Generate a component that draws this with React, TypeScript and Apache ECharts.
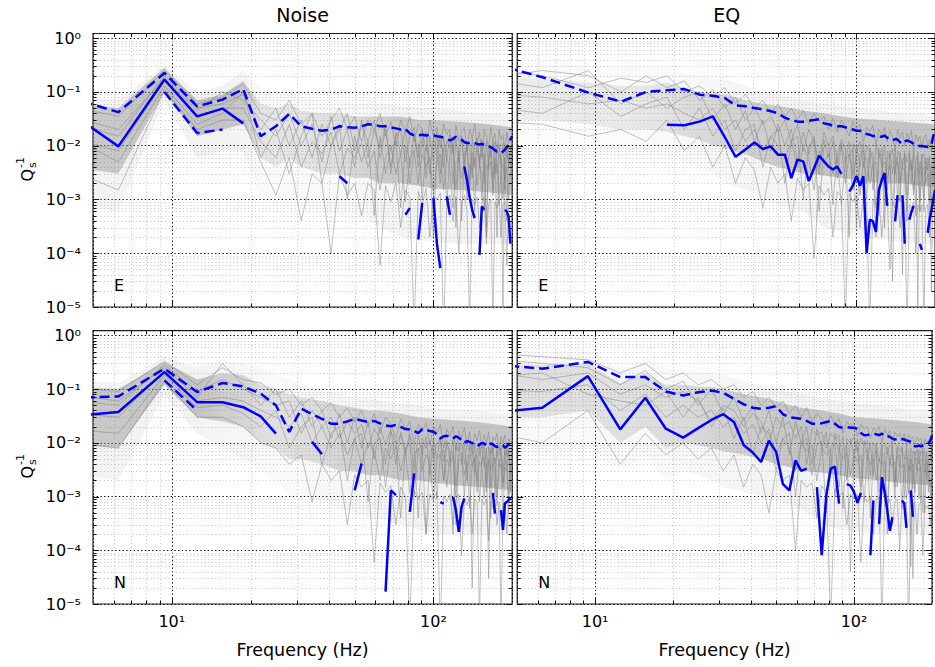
import React, { useEffect, useRef } from "react";
import * as echarts from "echarts";

// ---------- frequency sampling (Hz) ----------
const FREQ = [
  3.125, 6.25, 9.375, 12.5, 15.625, 18.75, 21.875, 25,
  28.125, 31.25, 34.375, 37.5, 40.625, 43.75, 46.875, 50,
  53.125, 56.25, 59.375, 62.5, 65.625, 68.75, 71.875, 75,
  78.125, 81.25, 84.375, 87.5, 90.625, 93.75, 96.875, 100,
  103.125, 106.25, 109.375, 112.5, 115.625, 118.75, 121.875, 125,
  128.125, 131.25, 134.375, 137.5, 140.625, 143.75, 146.875, 150,
  153.125, 156.25, 159.375, 162.5, 165.625, 168.75, 171.875, 175,
  178.125, 181.25, 184.375, 187.5, 190.625, 193.75, 196.875, 200,
];
const BAND_FREQ = [3.125, 6.25, 9.375, 12.5, 15.625, 18.75, 21.875, 25, 28.125, 31.25, 37.5, 43.75, 50, 56.25, 62.5, 75, 87.5, 100, 125, 150, 175, 200];

// ---------- ticks ----------
const X_MAJOR_TICKS = [10, 100];
const X_MINOR_TICKS = [6, 7, 8, 9, 20, 30, 40, 50, 60, 70, 80, 90];
const Y_MAJOR_TICKS = [1e-5, 1e-4, 1e-3, 1e-2, 1e-1, 1];
const Y_DECADES = [1e-5, 1e-4, 1e-3, 1e-2, 1e-1];
const MINOR_STEPS = [2, 3, 4, 5, 6, 7, 8, 9];

const TITLES = ["Noise", "EQ"];
const COMPONENTS = ["E", "N"];
const X_NAME = "Frequency (Hz)";

// ---------- Noise / E ----------
const TL_UPPER = [
  0.115, 0.042, 0.225, 0.054, 0.072, 0.113, 0.015, 0.023,
  0.039, 0.023, 0.0206, 0.019, 0.02, 0.023, 0.022, 0.0215,
  0.023, 0.025, 0.0246, 0.023, 0.023, 0.022, 0.021, 0.02,
  0.0205, 0.017, 0.0155, 0.0155, 0.016, 0.0155, 0.016, 0.0155,
  0.015, 0.0146, 0.0142, 0.0133, 0.0125, 0.0133, 0.0146, 0.014,
  0.013, 0.0116, 0.0112, 0.0112, 0.0116, 0.0112, 0.0108, 0.0105,
  0.0108, 0.0104, 0.0102, 0.0099, 0.0094, 0.0089, 0.0082, 0.0077,
  0.0075, 0.0073, 0.0078, 0.0084, 0.0094, 0.0104, 0.013, 0.015,
];
const TL_MEAN = [
  0.102, 0.0097, 0.17, 0.035, 0.049, 0.026, null, null,
  null, null, null, null, null, 0.0027, 0.002, null,
  null, null, null, null, null, null, null, null,
  5.2e-4, 6.9e-4, null, 1.8e-4, 8.6e-4, null, null, 1.06e-3,
  1.5e-4, 5.3e-5, null, 1.14e-3, 5.2e-4, null, null, null,
  null, 4.1e-3, 2.3e-3, 1.1e-3, 6.4e-4, 4.5e-4, null, 9.3e-5,
  7.4e-4, 6.4e-4, null, null, null, null, null, null,
  null, null, null, 6.4e-4, 6.0e-4, 4.8e-4, 1.5e-4, null,
];
const TL_LOWER_FREQ = [9.375, 12.5, 15.625];
const TL_LOWER = [0.1, 0.0172, 0.02];
const TL_CORE_HI = [0.07, 0.05, 0.28, 0.07, 0.09, 0.16, 0.06, 0.05, 0.06, 0.045, 0.04, 0.04, 0.035, 0.035, 0.035, 0.035, 0.03, 0.03, 0.028, 0.026, 0.024, 0.022];
const TL_CORE_LO = [0.005, 0.003, 0.1, 0.015, 0.02, 0.025, 0.006, 0.004, 0.006, 0.004, 0.003, 0.003, 0.0025, 0.0025, 0.002, 0.002, 0.0018, 0.0016, 0.0015, 0.0014, 0.0013, 0.0012];
const TL_HALO_HI = [0.1, 0.07, 0.32, 0.1, 0.13, 0.25, 0.12, 0.08, 0.1, 0.08, 0.07, 0.07, 0.06, 0.06, 0.06, 0.055, 0.05, 0.05, 0.045, 0.04, 0.04, 0.035];
const TL_HALO_LO = [0.001, 0.0006, 0.07, 0.006, 0.008, 0.008, 0.001, 0.0008, 0.001, 0.0008, 0.0006, 0.0005, 0.0004, 0.0004, 0.0003, 0.0002, 0.00018, 0.00016, 0.00015, 0.00015, 0.00015, 0.00015];
const TL_DENSITY = [0.9, 0.9, 1, 1, 1, 0.9, 0.45, 0.4, 0.45, 0.45, 0.5, 0.55, 0.65, 0.75, 0.85, 0.95, 1, 1, 1, 1, 1, 1];
const TL_G1 = [
  0.07, 0.035, 0.25, 0.06, 0.08, 0.14, 0.04, 0.03,
  0.07, 0.025, 0.04, 0.015, 0.03, 0.05, 0.02, 0.035,
  0.012, 0.03, 0.02, 0.04, 0.015, 0.028, 0.01, 0.03,
  0.018, 0.035, 0.012, 0.025, 0.02, 0.008, 0.03, 0.015,
  0.022, 0.009, 0.025, 0.016, 0.02, 0.007, 0.024, 0.012,
  0.018, 0.022, 0.008, 0.02, 0.014, 0.025, 0.01, 0.018,
  0.006, 0.02, 0.015, 0.009, 0.022, 0.012, 0.017, 0.007,
  0.02, 0.013, 0.016, 0.008, 0.018, 0.011, 0.015, 0.01,
];
const TL_G2 = [
  0.02, 0.008, 0.16, 0.035, 0.05, 0.05, 0.012, 0.006,
  0.025, 0.004, 0.012, 0.007, 0.018, 0.003, 0.009, 0.006,
  0.011, 0.004, 0.008, 0.0015, 0.006, 0.01, 0.003, 0.007,
  0.0009, 0.006, 0.008, 0.002, 0.007, 0.004, 0.006, 0.0012,
  0.005, 0.007, 0.0015, 0.006, 0.0035, 0.0007, 0.005, 0.006,
  0.0025, 0.005, 0.001, 0.0045, 0.0035, 0.006, 0.0018, 0.0045,
  0.003, 0.0006, 0.0045, 0.0035, 0.005, 0.0012, 0.004, 0.0045,
  0.0008, 0.0035, 0.0045, 0.0022, 0.004, 0.001, 0.0035, 0.003,
];
const TL_G3 = [
  0.006, 0.0015, 0.11, 0.02, 0.03, 0.03, 0.005, 0.0012,
  0.006, 0.0004, 0.003, 0.002, 0.0001, 0.003, 0.0012, 0.002,
  0.0005, 0.002, 0.0015, 0.00006, 0.0018, 0.0009, 0.002, 0.0003,
  0.0015, 0.0011, 0.000004, 0.0014, 0.0008, 0.0016, 0.0002, 0.0012,
  0.001, 0.0013, 0.000003, 0.0009, 0.0012, 0.0004, 0.0011, 0.0001,
  0.0009, 0.0012, 0.0006, 0.000005, 0.001, 0.0008, 0.0011, 0.0003,
  0.0009, 0.0011, 0.00015, 0.0008, 0.001, 0.000004, 0.0009, 0.0007,
  0.001, 0.0002, 0.0008, 0.0009, 0.00006, 0.0008, 0.0007, 0.0009,
];
const TL_G4 = [
  0.04, 0.015, 0.2, 0.05, 0.06, 0.09, 0.02, 0.05,
  0.01, 0.03, 0.006, 0.025, 0.01, 0.02, 0.04, 0.008,
  0.025, 0.012, 0.03, 0.006, 0.02, 0.004, 0.015, 0.02,
  0.005, 0.015, 0.022, 0.004, 0.012, 0.018, 0.003, 0.014,
  0.008, 0.016, 0.004, 0.012, 0.009, 0.015, 0.0003, 0.01,
  0.013, 0.005, 0.012, 0.009, 0.0025, 0.011, 0.014, 0.004,
  0.012, 0.008, 0.0002, 0.01, 0.006, 0.012, 0.003, 0.009,
  0.011, 0.005, 0.00001, 0.009, 0.006, 0.01, 0.004, 0.008,
];
const TL_G5 = [
  0.05, 0.02, 0.18, 0.045, 0.1, 0.07, 0.03, 0.015,
  0.04, 0.01, 0.025, 0.005, 0.035, 0.008, 0.02, 0.004,
  0.03, 0.006, 0.02, 0.009, 0.025, 0.003, 0.018, 0.007,
  0.02, 0.004, 0.016, 0.006, 0.02, 0.0025, 0.015, 0.005,
  0.018, 0.003, 0.014, 0.006, 0.016, 0.002, 0.013, 0.005,
  0.015, 0.0035, 0.012, 0.0015, 0.014, 0.004, 0.011, 0.005,
  0.013, 0.002, 0.012, 0.004, 0.01, 0.0025, 0.012, 0.003,
  0.01, 0.0045, 0.011, 0.0015, 0.009, 0.004, 0.01, 0.003,
];
const TL_G6 = [
  0.03, 0.005, 0.13, 0.025, 0.04, 0.1, 0.006, 0.02,
  0.003, 0.015, 0.04, 0.002, 0.01, 0.025, 0.001, 0.015,
  0.005, 0.012, 0.0005, 0.015, 0.003, 0.009, 0.012, 0.0007,
  0.01, 0.002, 0.008, 0.011, 0.001, 0.009, 0.006, 0.0002,
  0.008, 0.002, 0.009, 0.0008, 0.007, 0.01, 0.0015, 0.008,
  0.0004, 0.007, 0.009, 0.002, 0.0075, 0.0006, 0.008, 0.0065,
  0.001, 0.007, 0.0003, 0.0065, 0.008, 0.0015, 0.006, 0.0002,
  0.007, 0.0055, 0.001, 0.006, 0.0004, 0.0065, 0.005, 0.0012,
];

// ---------- EQ / E ----------
const TR_UPPER = [
  0.47, 0.187, 0.097, 0.066, 0.1, 0.107, 0.113, 0.089,
  0.085, 0.077, 0.056, 0.054, 0.05, 0.047, 0.044, 0.04,
  0.033, 0.03, 0.028, 0.028, 0.029, 0.03, 0.031, 0.026,
  0.025, 0.0235, 0.023, 0.023, 0.022, 0.021, 0.02, 0.019,
  0.019, 0.017, 0.0165, 0.016, 0.015, 0.0155, 0.015, 0.0146,
  0.0155, 0.014, 0.013, 0.0125, 0.0133, 0.013, 0.0116, 0.0108,
  0.012, 0.0125, 0.012, 0.0116, 0.0108, 0.0104, 0.01, 0.0099,
  0.0099, 0.0097, 0.0097, 0.0094, 0.0099, 0.0104, 0.015, 0.0185,
];
const TR_MEAN = [
  null, null, null, null, null, 0.0246, 0.024, 0.028,
  0.035, 0.0145, 0.0062, 0.0085, 0.0115, 0.0087, 0.0097, 0.0068,
  0.0068, 0.0025, 0.0055, 0.0051, 0.0022, 0.0038, 0.0065, 0.0051,
  0.0041, 0.0036, 0.0041, 0.003, null, 0.0014, 0.0018, 0.0027,
  0.0018, 0.0027, 1e-4, 4.2e-4, 3.9e-4, 2.5e-4, 1.5e-3, 2.3e-3,
  3.1e-3, 7.6e-4, null, null, 3.9e-4, 1.2e-3, null, 1.2e-3,
  1.5e-4, null, 4.2e-4, 5.9e-4, 7.6e-4, null, null, 1.5e-4,
  1.15e-4, null, null, 2.4e-4, 4.2e-4, 6.2e-4, 9.8e-4, 1.5e-3,
];
const TR_CORE_HI = [0.2, 0.18, 0.15, 0.13, 0.13, 0.15, 0.12, 0.1, 0.09, 0.09, 0.07, 0.06, 0.055, 0.05, 0.045, 0.04, 0.035, 0.032, 0.03, 0.028, 0.026, 0.025];
const TR_CORE_LO = [0.03, 0.03, 0.025, 0.02, 0.02, 0.018, 0.015, 0.013, 0.01, 0.009, 0.007, 0.005, 0.004, 0.0035, 0.003, 0.0028, 0.0025, 0.0023, 0.002, 0.002, 0.0018, 0.0017];
const TR_HALO_HI = [0.4, 0.35, 0.3, 0.3, 0.28, 0.28, 0.22, 0.2, 0.18, 0.17, 0.13, 0.1, 0.09, 0.08, 0.07, 0.06, 0.055, 0.05, 0.045, 0.04, 0.04, 0.035];
const TR_HALO_LO = [0.008, 0.006, 0.006, 0.006, 0.007, 0.006, 0.005, 0.004, 0.003, 0.002, 0.0015, 0.001, 0.0008, 0.0007, 0.0006, 0.0003, 0.00025, 0.0002, 0.00018, 0.00016, 0.00015, 0.00015];
const TR_DENSITY = [0.3, 0.3, 0.35, 0.35, 0.4, 0.45, 0.55, 0.6, 0.65, 0.7, 0.75, 0.8, 0.85, 0.9, 0.95, 1, 1, 1, 1, 1, 1, 1];
const TR_G1 = [
  0.3, 0.2, 0.12, 0.18, 0.15, 0.2, 0.1, 0.13,
  0.08, 0.12, 0.06, 0.09, 0.05, 0.07, 0.04, 0.06,
  0.035, 0.05, 0.03, 0.045, 0.025, 0.04, 0.028, 0.035,
  0.02, 0.032, 0.018, 0.03, 0.022, 0.015, 0.028, 0.02,
  0.025, 0.012, 0.022, 0.018, 0.024, 0.01, 0.02, 0.016,
  0.022, 0.012, 0.019, 0.015, 0.008, 0.02, 0.014, 0.018,
  0.01, 0.017, 0.013, 0.019, 0.007, 0.016, 0.012, 0.015,
  0.009, 0.014, 0.016, 0.01, 0.013, 0.008, 0.015, 0.012,
];
const TR_G2 = [
  0.1, 0.08, 0.06, 0.07, 0.05, 0.06, 0.04, 0.03,
  0.05, 0.02, 0.03, 0.012, 0.02, 0.008, 0.015, 0.01,
  0.006, 0.012, 0.004, 0.009, 0.006, 0.0015, 0.008, 0.005,
  0.007, 0.003, 0.006, 0.0008, 0.005, 0.007, 0.003, 0.006,
  0.0012, 0.005, 0.006, 0.002, 0.0045, 0.005, 0.0005, 0.004,
  0.005, 0.0025, 0.0045, 0.0008, 0.004, 0.005, 0.002, 0.004,
  0.0035, 0.0006, 0.004, 0.0045, 0.0015, 0.0035, 0.004, 0.0009,
  0.0035, 0.004, 0.002, 0.003, 0.0004, 0.0035, 0.003, 0.0025,
];
const TR_G3 = [
  0.03, 0.025, 0.015, 0.02, 0.012, 0.03, 0.008, 0.015,
  0.004, 0.01, 0.002, 0.006, 0.0035, 0.0007, 0.004, 0.002,
  0.003, 0.0004, 0.0025, 0.0015, 0.002, 0.00008, 0.0018, 0.0012,
  0.0016, 0.0002, 0.0014, 0.0011, 0.000005, 0.0013, 0.0009, 0.0012,
  0.0003, 0.0011, 0.0009, 0.000004, 0.001, 0.0008, 0.0011, 0.0002,
  0.0009, 0.001, 0.00005, 0.0009, 0.0007, 0.001, 0.0003, 0.0008,
  0.0009, 0.000003, 0.0008, 0.0007, 0.0009, 0.0001, 0.0008, 0.0006,
  0.0008, 0.000004, 0.0007, 0.0008, 0.0002, 0.0007, 0.0006, 0.0007,
];
const TR_G4 = [
  0.15, 0.25, 0.2, 0.1, 0.2, 0.12, 0.16, 0.07,
  0.11, 0.05, 0.08, 0.03, 0.05, 0.025, 0.035, 0.018,
  0.03, 0.012, 0.025, 0.008, 0.02, 0.012, 0.004, 0.018,
  0.01, 0.015, 0.005, 0.013, 0.009, 0.0002, 0.011, 0.007,
  0.012, 0.004, 0.01, 0.0075, 0.0015, 0.01, 0.006, 0.009,
  0.0003, 0.008, 0.006, 0.009, 0.003, 0.008, 0.0055, 0.00004,
  0.007, 0.005, 0.008, 0.002, 0.007, 0.005, 0.0075, 0.0006,
  0.006, 0.007, 0.003, 0.006, 0.0045, 0.00002, 0.006, 0.005,
];
const TR_G5 = [
  0.2, 0.12, 0.25, 0.06, 0.1, 0.05, 0.08, 0.1,
  0.03, 0.06, 0.02, 0.045, 0.012, 0.03, 0.008, 0.025,
  0.01, 0.02, 0.005, 0.018, 0.007, 0.015, 0.003, 0.013,
  0.006, 0.012, 0.0025, 0.011, 0.005, 0.012, 0.0015, 0.01,
  0.004, 0.011, 0.002, 0.009, 0.005, 0.0007, 0.009, 0.004,
  0.01, 0.0015, 0.008, 0.003, 0.009, 0.001, 0.0075, 0.004,
  0.008, 0.0012, 0.007, 0.0035, 0.0075, 0.0005, 0.0065, 0.003,
  0.007, 0.001, 0.006, 0.0035, 0.0065, 0.0008, 0.006, 0.0025,
];
const TR_G6 = [
  0.06, 0.04, 0.1, 0.035, 0.06, 0.08, 0.02, 0.05,
  0.015, 0.03, 0.008, 0.02, 0.025, 0.004, 0.015, 0.02,
  0.002, 0.012, 0.015, 0.001, 0.01, 0.013, 0.0006, 0.009,
  0.011, 0.0008, 0.008, 0.01, 0.002, 0.007, 0.009, 0.0003,
  0.007, 0.008, 0.001, 0.0065, 0.0075, 0.0002, 0.006, 0.007,
  0.0008, 0.006, 0.0065, 0.00003, 0.0055, 0.006, 0.0009, 0.0055,
  0.006, 0.0004, 0.005, 0.0055, 0.0012, 0.005, 0.00001, 0.005,
  0.0045, 0.0006, 0.005, 0.0045, 0.0009, 0.0045, 0.004, 0.0005,
];

// ---------- Noise / N ----------
const BL_UPPER = [
  0.066, 0.073, 0.24, 0.088, 0.13, 0.112, 0.082, 0.05,
  0.016, 0.043, 0.034, 0.028, 0.0227, 0.0227, 0.025, 0.028,
  0.026, 0.0244, 0.0255, 0.023, 0.021, 0.0203, 0.0216, 0.0197,
  0.018, 0.0176, 0.0166, 0.0152, 0.018, 0.0176, 0.0166, 0.016,
  0.0144, 0.012, 0.0132, 0.0135, 0.0128, 0.012, 0.0132, 0.0125,
  0.0111, 0.0099, 0.0108, 0.0104, 0.0099, 0.0094, 0.0086, 0.0092,
  0.0099, 0.0097, 0.009, 0.0086, 0.0097, 0.0094, 0.0086, 0.0084,
  0.0089, 0.0093, 0.009, 0.0081, 0.0086, 0.0094, 0.0104, 0.011,
];
const BL_MEAN = [
  0.0275, 0.0374, 0.207, 0.057, 0.057, 0.046, 0.031, 0.0148,
  null, null, 0.0104, 0.0061, null, null, null, 1.3e-3,
  4.1e-3, null, null, null, 1.7e-5, 1.3e-3, 1.06e-3, null,
  null, 5.2e-4, 2.7e-3, null, null, null, null, null,
  null, 7.9e-4, 7.4e-4, null, null, 9.8e-4, 5.6e-4, 2.2e-4,
  6.4e-4, 9.2e-4, null, null, null, null, null, null,
  null, null, null, null, null, 1.17e-3, 4.8e-4, null,
  null, 5.6e-4, 2.4e-4, 7.4e-4, 7.9e-4, 8.5e-4, 9.8e-4, null,
];
const BL_LOWER_FREQ = [9.375, 12.5];
const BL_LOWER = [0.145, 0.04];
const BL_CORE_HI = [0.12, 0.1, 0.32, 0.15, 0.2, 0.18, 0.12, 0.1, 0.08, 0.07, 0.06, 0.05, 0.045, 0.04, 0.04, 0.035, 0.03, 0.028, 0.026, 0.024, 0.022, 0.02];
const BL_CORE_LO = [0.01, 0.008, 0.12, 0.03, 0.025, 0.02, 0.01, 0.008, 0.005, 0.005, 0.004, 0.003, 0.003, 0.0025, 0.0025, 0.002, 0.002, 0.0018, 0.0016, 0.0015, 0.0014, 0.0013];
const BL_HALO_HI = [0.15, 0.13, 0.4, 0.25, 0.35, 0.3, 0.25, 0.2, 0.15, 0.12, 0.1, 0.08, 0.07, 0.07, 0.06, 0.055, 0.05, 0.045, 0.04, 0.04, 0.035, 0.035];
const BL_HALO_LO = [0.003, 0.002, 0.08, 0.015, 0.008, 0.005, 0.003, 0.002, 0.001, 0.001, 0.0008, 0.0006, 0.0005, 0.0004, 0.0004, 0.0003, 0.00025, 0.0002, 0.0002, 0.0002, 0.0002, 0.0002];
const BL_DENSITY = [0.9, 0.9, 1, 1, 0.8, 0.7, 0.55, 0.5, 0.5, 0.55, 0.6, 0.7, 0.8, 0.85, 0.9, 0.95, 1, 1, 1, 1, 1, 1];
const BL_G1 = [
  0.12, 0.09, 0.33, 0.12, 0.25, 0.15, 0.13, 0.08,
  0.1, 0.05, 0.07, 0.04, 0.055, 0.03, 0.045, 0.025,
  0.04, 0.02, 0.035, 0.015, 0.03, 0.022, 0.012, 0.028,
  0.018, 0.025, 0.01, 0.022, 0.016, 0.024, 0.009, 0.02,
  0.015, 0.022, 0.008, 0.018, 0.013, 0.02, 0.007, 0.017,
  0.012, 0.019, 0.009, 0.016, 0.006, 0.015, 0.011, 0.017,
  0.008, 0.014, 0.01, 0.016, 0.006, 0.013, 0.011, 0.015,
  0.007, 0.013, 0.01, 0.014, 0.006, 0.012, 0.01, 0.011,
];
const BL_G2 = [
  0.04, 0.03, 0.22, 0.06, 0.07, 0.06, 0.04, 0.03,
  0.02, 0.035, 0.01, 0.02, 0.008, 0.015, 0.006, 0.012,
  0.004, 0.01, 0.007, 0.002, 0.008, 0.005, 0.009, 0.003,
  0.007, 0.0012, 0.006, 0.008, 0.003, 0.006, 0.0045, 0.0008,
  0.005, 0.006, 0.002, 0.005, 0.0035, 0.006, 0.001, 0.0045,
  0.005, 0.0025, 0.0045, 0.0006, 0.004, 0.005, 0.002, 0.0045,
  0.0035, 0.0009, 0.004, 0.0045, 0.0015, 0.004, 0.0035, 0.0007,
  0.0035, 0.004, 0.0018, 0.0035, 0.003, 0.0005, 0.003, 0.0028,
];
const BL_G3 = [
  0.012, 0.008, 0.14, 0.03, 0.03, 0.02, 0.01, 0.008,
  0.004, 0.006, 0.0008, 0.004, 0.002, 0.003, 0.0003, 0.0025,
  0.0015, 0.002, 0.00006, 0.0018, 0.0012, 0.0016, 0.0003, 0.0015,
  0.001, 0.000004, 0.0013, 0.0009, 0.0012, 0.0002, 0.0011, 0.0009,
  0.0012, 0.000003, 0.001, 0.0008, 0.0011, 0.0003, 0.0009, 0.0011,
  0.00008, 0.0009, 0.0007, 0.001, 0.0002, 0.0009, 0.0008, 0.000005,
  0.0009, 0.0007, 0.0009, 0.00015, 0.0008, 0.0006, 0.0009, 0.0003,
  0.0008, 0.000004, 0.0007, 0.0008, 0.0002, 0.0007, 0.0006, 0.0008,
];
const BL_G4 = [
  0.07, 0.05, 0.28, 0.09, 0.15, 0.1, 0.07, 0.05,
  0.06, 0.015, 0.04, 0.02, 0.03, 0.012, 0.025, 0.015,
  0.022, 0.008, 0.018, 0.012, 0.004, 0.016, 0.01, 0.014,
  0.006, 0.013, 0.009, 0.0004, 0.012, 0.008, 0.011, 0.005,
  0.01, 0.012, 0.0045, 0.01, 0.007, 0.0002, 0.009, 0.007,
  0.01, 0.004, 0.009, 0.007, 0.01, 0.0025, 0.008, 0.006,
  0.009, 0.0035, 0.008, 0.00003, 0.007, 0.008, 0.004, 0.007,
  0.006, 0.008, 0.003, 0.007, 0.0055, 0.007, 0.0025, 0.006,
];
const BL_G5 = [
  0.09, 0.06, 0.25, 0.07, 0.3, 0.12, 0.05, 0.1,
  0.03, 0.06, 0.02, 0.04, 0.012, 0.035, 0.01, 0.03,
  0.008, 0.025, 0.005, 0.02, 0.009, 0.018, 0.004, 0.016,
  0.007, 0.015, 0.003, 0.014, 0.006, 0.013, 0.0025, 0.012,
  0.005, 0.013, 0.002, 0.011, 0.0045, 0.012, 0.0015, 0.01,
  0.004, 0.011, 0.002, 0.0095, 0.0035, 0.01, 0.0012, 0.009,
  0.004, 0.0095, 0.0018, 0.0085, 0.003, 0.009, 0.001, 0.008,
  0.0035, 0.0085, 0.0015, 0.008, 0.003, 0.0075, 0.0012, 0.007,
];
const BL_G6 = [
  0.02, 0.015, 0.18, 0.045, 0.05, 0.035, 0.02, 0.04,
  0.008, 0.02, 0.03, 0.004, 0.015, 0.02, 0.002, 0.012,
  0.015, 0.0008, 0.01, 0.012, 0.0015, 0.009, 0.011, 0.0004,
  0.008, 0.01, 0.001, 0.0075, 0.009, 0.0002, 0.007, 0.008,
  0.0009, 0.0065, 0.0075, 0.0015, 0.006, 0.007, 0.0003, 0.006,
  0.0065, 0.001, 0.0055, 0.006, 0.00002, 0.0055, 0.006, 0.0008,
  0.005, 0.0055, 0.0012, 0.005, 0.0004, 0.005, 0.0052, 0.001,
  0.0045, 0.005, 0.0003, 0.0045, 0.0048, 0.0011, 0.0042, 0.004,
];

// ---------- EQ / N ----------
const BR_UPPER = [
  0.32, 0.24, 0.32, 0.167, 0.167, 0.09, 0.076, 0.087,
  0.094, 0.085, 0.066, 0.052, 0.045, 0.043, 0.045, 0.048,
  0.034, 0.03, 0.029, 0.028, 0.0255, 0.0227, 0.0227, 0.023,
  0.0244, 0.0255, 0.0227, 0.0197, 0.019, 0.0197, 0.019, 0.019,
  0.0183, 0.0152, 0.0138, 0.014, 0.0144, 0.0148, 0.0144, 0.0138,
  0.0148, 0.0132, 0.0135, 0.0128, 0.012, 0.0115, 0.0118, 0.0122,
  0.0118, 0.0115, 0.0111, 0.0108, 0.0104, 0.009, 0.0086, 0.0086,
  0.0089, 0.0086, 0.0089, 0.009, 0.0094, 0.0097, 0.011, 0.0138,
];
const BR_MEAN = [
  0.032, 0.045, 0.174, 0.0178, 0.069, 0.0183, 0.0125, 0.0188,
  0.0266, 0.034, 0.0244, 0.009, 0.0066, 0.0044, 0.011, 0.0068,
  0.0017, 0.0013, 0.0047, 0.003, 0.0033, null, 0.0015, 8.1e-5,
  0.00105, 0.0033, 0.0036, 7.4e-4, null, 0.0017, 0.0016, 0.0012,
  7.6e-4, 0.00117, null, null, 8.1e-5, 8.5e-4, null, 3.1e-4,
  0.0023, 0.0012, 5.6e-4, 2.3e-4, 4.1e-4, null, null, null,
  8.4e-4, 7.4e-4, 2.6e-4, null, 0.0013, 4.2e-4, null, null,
  null, null, null, null, null, null, null, null,
];
const BR_CORE_HI = [0.3, 0.28, 0.3, 0.13, 0.2, 0.12, 0.12, 0.11, 0.11, 0.1, 0.08, 0.07, 0.06, 0.05, 0.045, 0.04, 0.035, 0.03, 0.028, 0.026, 0.024, 0.022];
const BR_CORE_LO = [0.03, 0.03, 0.04, 0.01, 0.02, 0.008, 0.01, 0.009, 0.008, 0.007, 0.006, 0.005, 0.004, 0.0035, 0.003, 0.0028, 0.0025, 0.0022, 0.002, 0.0018, 0.0017, 0.0016];
const BR_HALO_HI = [0.6, 0.5, 0.55, 0.25, 0.4, 0.25, 0.22, 0.2, 0.2, 0.18, 0.14, 0.12, 0.1, 0.09, 0.08, 0.07, 0.06, 0.055, 0.05, 0.045, 0.04, 0.04];
const BR_HALO_LO = [0.008, 0.006, 0.008, 0.003, 0.006, 0.002, 0.003, 0.0025, 0.002, 0.0015, 0.0012, 0.001, 0.0008, 0.0007, 0.0006, 0.0003, 0.00025, 0.00022, 0.0002, 0.0002, 0.0002, 0.0002];
const BR_DENSITY = [0.5, 0.5, 0.5, 0.5, 0.55, 0.55, 0.6, 0.65, 0.7, 0.75, 0.8, 0.85, 0.9, 0.95, 1, 1, 1, 1, 1, 1, 1, 1];
const BR_G1 = [
  0.5, 0.4, 0.35, 0.2, 0.3, 0.15, 0.2, 0.12,
  0.15, 0.1, 0.12, 0.07, 0.09, 0.05, 0.07, 0.045,
  0.06, 0.035, 0.05, 0.03, 0.045, 0.025, 0.035, 0.028,
  0.02, 0.032, 0.022, 0.028, 0.015, 0.025, 0.02, 0.023,
  0.013, 0.022, 0.018, 0.02, 0.012, 0.019, 0.016, 0.02,
  0.01, 0.018, 0.014, 0.017, 0.009, 0.016, 0.013, 0.015,
  0.011, 0.015, 0.008, 0.014, 0.012, 0.013, 0.009, 0.013,
  0.011, 0.012, 0.007, 0.012, 0.01, 0.011, 0.008, 0.012,
];
const BR_G2 = [
  0.1, 0.09, 0.12, 0.04, 0.08, 0.03, 0.05, 0.03,
  0.04, 0.02, 0.03, 0.015, 0.022, 0.01, 0.018, 0.006,
  0.012, 0.008, 0.003, 0.01, 0.007, 0.009, 0.002, 0.008,
  0.006, 0.0075, 0.001, 0.007, 0.005, 0.0065, 0.0025, 0.006,
  0.0045, 0.006, 0.0008, 0.0055, 0.004, 0.005, 0.002, 0.005,
  0.004, 0.0045, 0.0006, 0.0045, 0.0035, 0.0045, 0.0015, 0.004,
  0.0035, 0.004, 0.0009, 0.0038, 0.003, 0.004, 0.0012, 0.0035,
  0.003, 0.0035, 0.0005, 0.0032, 0.0028, 0.003, 0.0015, 0.003,
];
const BR_G3 = [
  0.02, 0.01, 0.04, 0.004, 0.015, 0.006, 0.01, 0.005,
  0.008, 0.003, 0.006, 0.0015, 0.004, 0.0025, 0.0005, 0.003,
  0.002, 0.0025, 0.0001, 0.002, 0.0015, 0.0018, 0.0004, 0.0016,
  0.0012, 0.000005, 0.0014, 0.001, 0.0012, 0.0003, 0.0011, 0.0009,
  0.0011, 0.00006, 0.001, 0.0008, 0.001, 0.0002, 0.0009, 0.001,
  0.000004, 0.0009, 0.0007, 0.0009, 0.0003, 0.0008, 0.0009, 0.0001,
  0.0008, 0.0007, 0.0008, 0.000003, 0.0008, 0.0006, 0.0008, 0.0002,
  0.0007, 0.0008, 0.00008, 0.0007, 0.0006, 0.0007, 0.0003, 0.0007,
];
const BR_G4 = [
  0.25, 0.15, 0.2, 0.08, 0.12, 0.07, 0.09, 0.06,
  0.025, 0.05, 0.04, 0.02, 0.035, 0.025, 0.01, 0.03,
  0.02, 0.025, 0.012, 0.02, 0.004, 0.018, 0.014, 0.016,
  0.008, 0.015, 0.012, 0.014, 0.0006, 0.012, 0.01, 0.013,
  0.007, 0.012, 0.009, 0.011, 0.0025, 0.01, 0.008, 0.0003,
  0.009, 0.01, 0.006, 0.009, 0.008, 0.0015, 0.009, 0.007,
  0.008, 0.005, 0.008, 0.007, 0.00005, 0.007, 0.006, 0.0075,
  0.004, 0.007, 0.006, 0.007, 0.002, 0.006, 0.0055, 0.006,
];
const BR_G5 = [
  0.4, 0.3, 0.25, 0.12, 0.22, 0.1, 0.14, 0.05,
  0.1, 0.035, 0.07, 0.025, 0.05, 0.015, 0.04, 0.01,
  0.03, 0.006, 0.025, 0.01, 0.02, 0.004, 0.018, 0.008,
  0.016, 0.003, 0.015, 0.007, 0.013, 0.002, 0.012, 0.006,
  0.012, 0.0015, 0.011, 0.005, 0.01, 0.0025, 0.0095, 0.0045,
  0.009, 0.0012, 0.0085, 0.004, 0.009, 0.0018, 0.008, 0.0035,
  0.0085, 0.0009, 0.0075, 0.003, 0.008, 0.0014, 0.007, 0.0032,
  0.0075, 0.0008, 0.007, 0.0028, 0.0068, 0.0012, 0.0065, 0.003,
];
const BR_G6 = [
  0.15, 0.2, 0.08, 0.06, 0.05, 0.09, 0.03, 0.07,
  0.02, 0.045, 0.012, 0.03, 0.006, 0.02, 0.015, 0.003,
  0.012, 0.015, 0.001, 0.01, 0.012, 0.0025, 0.009, 0.011,
  0.0005, 0.008, 0.01, 0.0015, 0.0075, 0.009, 0.00004, 0.007,
  0.008, 0.001, 0.0065, 0.0075, 0.0004, 0.006, 0.007, 0.0012,
  0.006, 0.0065, 0.0002, 0.0055, 0.006, 0.0009, 0.0055, 0.006,
  0.0006, 0.005, 0.0055, 0.0011, 0.005, 0.00003, 0.005, 0.0052,
  0.0009, 0.0048, 0.005, 0.0005, 0.0045, 0.0048, 0.001, 0.0045,
];

// ---------- layout / style ----------
const X_MIN = 5, X_MAX = 200, Y_MIN = 1e-5, Y_MAX = 1.22;
const FONT = "DejaVu Sans";
const BLUE = "#0000ff";

const PANELS = [
  { grid: { left: 93, top: 33.5, width: 419.2, height: 273.5 }, letter: COMPONENTS[0], xLabels: false, yLabels: true,
    upper: TL_UPPER, mean: TL_MEAN, lowerFreq: TL_LOWER_FREQ, lower: TL_LOWER,
    coreHi: TL_CORE_HI, coreLo: TL_CORE_LO, haloHi: TL_HALO_HI, haloLo: TL_HALO_LO, density: TL_DENSITY,
    gray: [TL_G1, TL_G2, TL_G3, TL_G4, TL_G5, TL_G6] },
  { grid: { left: 517.2, top: 33.5, width: 418.9, height: 273.5 }, letter: COMPONENTS[0], xLabels: false, yLabels: false,
    upper: TR_UPPER, mean: TR_MEAN, lowerFreq: [], lower: [],
    coreHi: TR_CORE_HI, coreLo: TR_CORE_LO, haloHi: TR_HALO_HI, haloLo: TR_HALO_LO, density: TR_DENSITY,
    gray: [TR_G1, TR_G2, TR_G3, TR_G4, TR_G5, TR_G6] },
  { grid: { left: 93, top: 330.7, width: 419.2, height: 273.3 }, letter: COMPONENTS[1], xLabels: true, yLabels: true,
    upper: BL_UPPER, mean: BL_MEAN, lowerFreq: BL_LOWER_FREQ, lower: BL_LOWER,
    coreHi: BL_CORE_HI, coreLo: BL_CORE_LO, haloHi: BL_HALO_HI, haloLo: BL_HALO_LO, density: BL_DENSITY,
    gray: [BL_G1, BL_G2, BL_G3, BL_G4, BL_G5, BL_G6] },
  { grid: { left: 517.2, top: 330.7, width: 418.9, height: 273.3 }, letter: COMPONENTS[1], xLabels: true, yLabels: false,
    upper: BR_UPPER, mean: BR_MEAN, lowerFreq: [], lower: [],
    coreHi: BR_CORE_HI, coreLo: BR_CORE_LO, haloHi: BR_HALO_HI, haloLo: BR_HALO_LO, density: BR_DENSITY,
    gray: [BR_G1, BR_G2, BR_G3, BR_G4, BR_G5, BR_G6] },
];

const SUP: Record<string, string> = { "0": "⁰", "1": "¹", "2": "²", "3": "³", "4": "⁴", "5": "⁵", "6": "⁶", "7": "⁷", "8": "⁸", "9": "⁹", "-": "⁻" };
function decadeLabel(v: number): string {
  const e = Math.log10(v);
  const r = Math.round(e);
  if (Math.abs(e - r) > 1e-6) return "";
  return "10" + String(r).split("").map((c) => SUP[c]).join("");
}

function pairs(freq: number[], vals: (number | null)[]) {
  return freq.map((f, i) => [f, vals[i] == null ? "-" : vals[i]]);
}

const Y_MINOR_TICKS: number[] = [];
Y_DECADES.forEach((d) => MINOR_STEPS.forEach((s) => Y_MINOR_TICKS.push(Number((d * s).toPrecision(3)))));

function bandSeries(idx: number, lo: number[], hi: number[], density: number[], rgb: string, alpha: number, z: number) {
  return {
    type: "custom", xAxisIndex: idx, yAxisIndex: idx, silent: true, z, clip: true,
    data: [[X_MIN, Y_MIN]],
    renderItem: (params: any, api: any) => {
      const top = BAND_FREQ.map((f, i) => api.coord([f, hi[i]]));
      const bot = BAND_FREQ.map((f, i) => api.coord([f, lo[i]]));
      const pts = top.concat(bot.slice().reverse());
      const x0 = top[0][0], x1 = top[top.length - 1][0];
      const stops = top.map((p: number[], i: number) => ({
        offset: Math.min(1, Math.max(0, (p[0] - x0) / (x1 - x0))),
        color: `rgba(${rgb},${(alpha * density[i]).toFixed(3)})`,
      }));
      return {
        type: "polygon", shape: { points: pts },
        style: { fill: { type: "linear", x: 0, y: 0, x2: 1, y2: 0, colorStops: stops }, stroke: "none" },
      };
    },
  };
}

function minorGridSeries(idx: number) {
  return {
    type: "custom", xAxisIndex: idx, yAxisIndex: idx, silent: true, z: 1, clip: true,
    data: [[X_MIN, Y_MIN]],
    renderItem: (params: any, api: any) => {
      const cs = params.coordSys;
      const l = cs.x, r = cs.x + cs.width, t = cs.y, b = cs.y + cs.height;
      const st = { stroke: "#c4c4c4", lineWidth: 1, lineDash: [1, 2.6] };
      const children: any[] = [];
      X_MINOR_TICKS.forEach((v) => {
        const x = Math.round(api.coord([v, Y_MIN])[0]) + 0.5;
        children.push({ type: "line", shape: { x1: x, y1: t, x2: x, y2: b }, style: st });
      });
      Y_MINOR_TICKS.forEach((v) => {
        const y = Math.round(api.coord([X_MIN, v])[1]) + 0.5;
        children.push({ type: "line", shape: { x1: l, y1: y, x2: r, y2: y }, style: st });
      });
      return { type: "group", children };
    },
  };
}

function ticksSeries(idx: number) {
  return {
    type: "custom", xAxisIndex: idx, yAxisIndex: idx, silent: true, z: 8, clip: false,
    data: [[X_MIN, Y_MIN]],
    renderItem: (params: any, api: any) => {
      const cs = params.coordSys;
      const l = cs.x, r = cs.x + cs.width, t = cs.y, b = cs.y + cs.height;
      const st = { stroke: "#111", lineWidth: 1 };
      const children: any[] = [];
      const add = (x1: number, y1: number, x2: number, y2: number) =>
        children.push({ type: "line", shape: { x1, y1, x2, y2 }, style: st });
      const xt = (vals: number[], len: number) => vals.forEach((v) => {
        const x = Math.round(api.coord([v, Y_MIN])[0]) + 0.5;
        add(x, b, x, b - len); add(x, t, x, t + len);
      });
      const yt = (vals: number[], len: number) => vals.forEach((v) => {
        const y = Math.round(api.coord([X_MIN, v])[1]) + 0.5;
        add(l, y, l + len, y); add(r, y, r - len, y);
      });
      xt(X_MAJOR_TICKS, 6); xt(X_MINOR_TICKS, 3.5);
      yt(Y_MAJOR_TICKS, 6); yt(Y_MINOR_TICKS, 3.5);
      return { type: "group", children };
    },
  };
}

function qLabel(cy: number) {
  const base = { fontFamily: FONT, fill: "#000", textVerticalAlign: "bottom", verticalAlign: "bottom" };
  return {
    type: "group", x: 35, y: cy, rotation: Math.PI / 2,
    children: [
      { type: "text", x: 0, y: 0, style: { ...base, text: "Q", fontSize: 16, textAlign: "right", align: "right" } },
      { type: "text", x: 1, y: 3, style: { ...base, text: "s", fontSize: 11, textAlign: "left", align: "left" } },
      { type: "text", x: 1, y: -9, style: { ...base, text: "-1", fontSize: 11, textAlign: "left", align: "left" } },
    ],
  };
}

function buildOption() {
  const grid = PANELS.map((p) => ({ ...p.grid, show: true, borderColor: "#222", borderWidth: 1.2, backgroundColor: "rgba(0,0,0,0)" }));
  const majorSplit = { show: true, lineStyle: { color: "#000", width: 1, type: [1.3, 2.4] } };
  const xAxis = PANELS.map((p, i) => ({
    type: "log", logBase: 10, gridIndex: i, min: X_MIN, max: X_MAX,
    axisLine: { show: false }, axisTick: { show: false }, splitLine: majorSplit,
    axisLabel: { show: p.xLabels, formatter: decadeLabel, fontSize: 16, color: "#000", fontFamily: FONT, margin: 9 },
    name: p.xLabels ? X_NAME : "", nameLocation: "middle", nameGap: 37,
    nameTextStyle: { fontSize: 17.5, color: "#000", fontFamily: FONT },
  }));
  const yAxis = PANELS.map((p, i) => ({
    type: "log", logBase: 10, gridIndex: i, min: Y_MIN, max: Y_MAX,
    axisLine: { show: false }, axisTick: { show: false }, splitLine: majorSplit,
    axisLabel: { show: p.yLabels, formatter: decadeLabel, fontSize: 16, color: "#000", fontFamily: FONT, margin: 12 },
  }));

  const series: any[] = [];
  PANELS.forEach((p, i) => {
    series.push(minorGridSeries(i));
    series.push(bandSeries(i, p.haloLo, p.haloHi, p.density, "150,150,150", 0.12, 2));
    series.push(bandSeries(i, p.coreLo, p.coreHi, p.density, "125,125,125", 0.4, 2));
    p.gray.forEach((g) => series.push({
      type: "line", xAxisIndex: i, yAxisIndex: i, data: pairs(FREQ, g), symbol: "none", silent: true, z: 3, clip: true,
      lineStyle: { color: "rgba(128,128,128,0.55)", width: 0.9 },
    }));
    series.push({
      type: "line", xAxisIndex: i, yAxisIndex: i, data: pairs(FREQ, p.upper), symbol: "none", silent: true, z: 5, clip: true,
      lineStyle: { color: BLUE, width: 2.5, type: [10, 5] },
    });
    series.push({
      type: "line", xAxisIndex: i, yAxisIndex: i, data: pairs(FREQ, p.mean), symbol: "none", silent: true, z: 5, clip: true,
      lineStyle: { color: BLUE, width: 2.5 },
    });
    if (p.lower.length) series.push({
      type: "line", xAxisIndex: i, yAxisIndex: i, data: pairs(p.lowerFreq, p.lower), symbol: "none", silent: true, z: 5, clip: true,
      lineStyle: { color: BLUE, width: 2.5, type: [10, 5] },
    });
    series.push(ticksSeries(i));
  });

  const txt = (text: string, x: number, y: number, fontSize: number, align: string) => ({
    type: "text", x, y, z: 10,
    style: { text, fontSize, fontFamily: FONT, fill: "#000", textAlign: align, align, textVerticalAlign: "middle", verticalAlign: "middle" },
  });
  const graphic = [
    txt(TITLES[0], 93 + 419.2 / 2, 14.5, 19, "center"),
    txt(TITLES[1], 517.2 + 418.9 / 2, 14.5, 19, "center"),
    ...PANELS.map((p) => txt(p.letter, p.grid.left + 21, p.grid.top + 252, 16, "left")),
    qLabel(169),
    qLabel(466),
  ];

  return { animation: false, textStyle: { fontFamily: FONT }, grid, xAxis, yAxis, series, graphic };
}

export default function App() {
  const ref = useRef<HTMLDivElement>(null);
  useEffect(() => {
    if (!ref.current) return;
    const chart = echarts.init(ref.current, undefined, { renderer: "svg" });
    chart.setOption(buildOption() as any);
    return () => chart.dispose();
  }, []);
  return <div ref={ref} style={{ position: "fixed", left: 0, top: 0, width: 935, height: 667, background: "#fff" }} />;
}
